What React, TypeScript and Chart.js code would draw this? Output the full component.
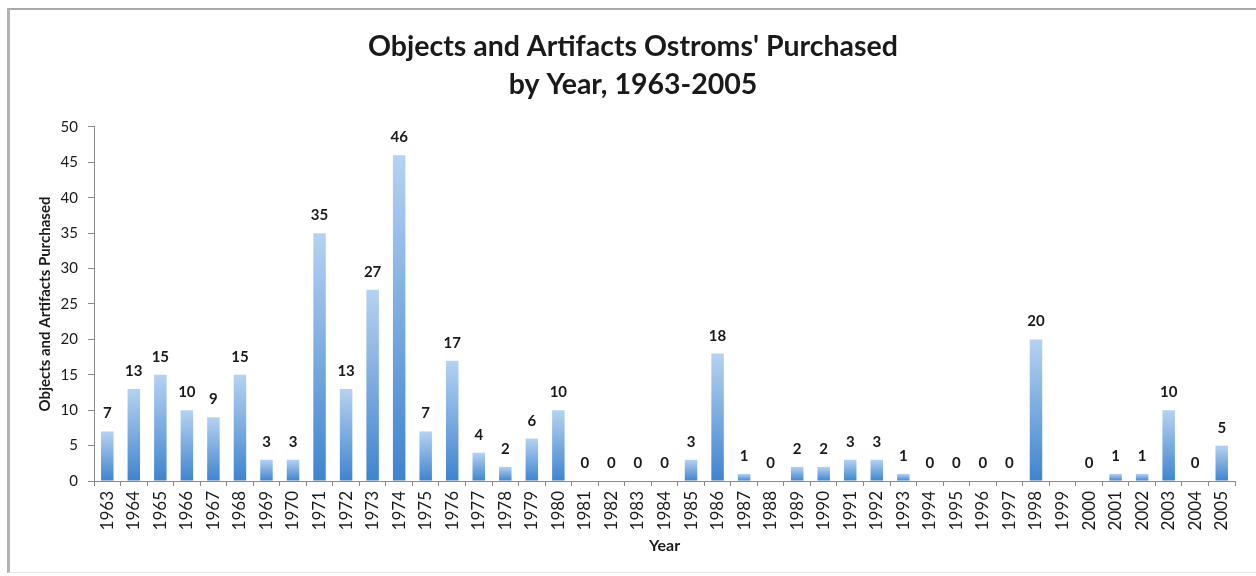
import React, { useEffect, useRef } from "react";
import { Chart, registerables } from "chart.js";

Chart.register(...registerables);

const years: string[] = [
  "1963", "1964", "1965", "1966", "1967", "1968", "1969", "1970", "1971", "1972",
  "1973", "1974", "1975", "1976", "1977", "1978", "1979", "1980", "1981", "1982",
  "1983", "1984", "1985", "1986", "1987", "1988", "1989", "1990", "1991", "1992",
  "1993", "1994", "1995", "1996", "1997", "1998", "1999", "2000", "2001", "2002",
  "2003", "2004", "2005",
];

const purchased: (number | null)[] = [
  7, 13, 15, 10, 9, 15, 3, 3, 35, 13,
  27, 46, 7, 17, 4, 2, 6, 10, 0, 0,
  0, 0, 3, 18, 1, 0, 2, 2, 3, 3,
  1, 0, 0, 0, 0, 20, null, 0, 1, 1,
  10, 0, 5,
];

const titleLines: string[] = ["Objects and Artifacts Ostroms' Purchased", "by Year, 1963-2005"];
const yTitle = "Objects and Artifacts Purchased";
const xTitle = "Year";

const FONT = "Lato, 'Open Sans', sans-serif";
const TEXT = "#1a1a1a";
const AXIS = "#8a8a8a";

const valueLabels = {
  id: "valueLabels",
  afterDatasetsDraw(chart: any) {
    const ctx = chart.ctx;
    const meta = chart.getDatasetMeta(0);
    ctx.save();
    ctx.font = `bold 15px ${FONT}`;
    ctx.fillStyle = TEXT;
    ctx.textAlign = "center";
    ctx.textBaseline = "alphabetic";
    meta.data.forEach((el: any, i: number) => {
      const v = purchased[i];
      if (v === null || v === undefined) return;
      ctx.fillText(String(v), el.x, el.y - 13);
    });
    ctx.restore();
  },
};

export default function App() {
  const ref = useRef<HTMLCanvasElement | null>(null);

  useEffect(() => {
    if (!ref.current) return;
    const chart = new Chart(ref.current, {
      type: "bar",
      data: {
        labels: years,
        datasets: [
          {
            data: purchased,
            barPercentage: 0.47,
            categoryPercentage: 1,
            backgroundColor: (c: any) => {
              const ch = c.chart;
              const ys = ch.scales?.y;
              const v = purchased[c.dataIndex];
              if (!ch.chartArea || !ys || v === null) return "#6fa3de";
              const top = ys.getPixelForValue(v);
              const bot = ys.getPixelForValue(0);
              if (bot - top < 1) return "#4a8bd2";
              const g = ch.ctx.createLinearGradient(0, top, 0, bot);
              g.addColorStop(0, "#b6d2f1");
              g.addColorStop(1, "#3f84cf");
              return g;
            },
            borderWidth: 0,
          },
        ],
      },
      options: {
        responsive: false,
        animation: false,
        devicePixelRatio: 1,
        layout: { padding: { left: 21, right: 21, top: 0, bottom: 0 } },
        plugins: {
          legend: { display: false },
          tooltip: { enabled: false },
          title: {
            display: true,
            text: titleLines,
            color: TEXT,
            font: { family: FONT, size: 28.5, weight: "bold", lineHeight: 1.333 },
            padding: { top: 18, bottom: 23 },
          },
        },
        scales: {
          x: {
            afterFit: (s: any) => {
              s.height = 91;
            },
            grid: {
              display: true,
              drawOnChartArea: false,
              drawTicks: true,
              tickLength: 5,
              color: AXIS,
              offset: true,
            },
            border: { display: true, color: AXIS, width: 1 },
            ticks: {
              autoSkip: false,
              minRotation: 90,
              maxRotation: 90,
              padding: 5,
              color: TEXT,
              font: { family: FONT, size: 17 },
            },
            title: {
              display: true,
              text: xTitle,
              color: TEXT,
              font: { family: FONT, size: 16, weight: "bold", lineHeight: 1.2 },
              padding: { top: 0, bottom: 17 },
            },
          },
          y: {
            min: 0,
            max: 50,
            afterFit: (s: any) => {
              s.width = 63;
            },
            grid: {
              display: true,
              drawOnChartArea: false,
              drawTicks: true,
              tickLength: 6,
              color: AXIS,
            },
            border: { display: true, color: AXIS, width: 1 },
            ticks: {
              stepSize: 5,
              padding: 10,
              color: TEXT,
              font: { family: FONT, size: 15 },
            },
            title: {
              display: true,
              text: yTitle,
              color: TEXT,
              font: { family: FONT, size: 15, weight: "bold", lineHeight: 1.2 },
              padding: { top: 5, bottom: 0 },
            },
          },
        },
      },
      plugins: [valueLabels],
    });
    return () => chart.destroy();
  }, []);

  return (
    <div
      style={{
        position: "fixed",
        left: 0,
        top: 0,
        width: 1256,
        height: 576,
        overflow: "hidden",
        background: "#ffffff",
      }}
    >
      <div
        style={{
          position: "absolute",
          left: 7,
          top: 8,
          width: 1249,
          height: 565,
          borderTop: "2px solid #a9a9a9",
          borderLeft: "3px solid #b3b3b3",
          borderBottom: "1px solid #e6e6e6",
          boxSizing: "border-box",
          background: "#ffffff",
        }}
      >
        <canvas ref={ref} width={1246} height={562} style={{ display: "block" }} />
      </div>
    </div>
  );
}
